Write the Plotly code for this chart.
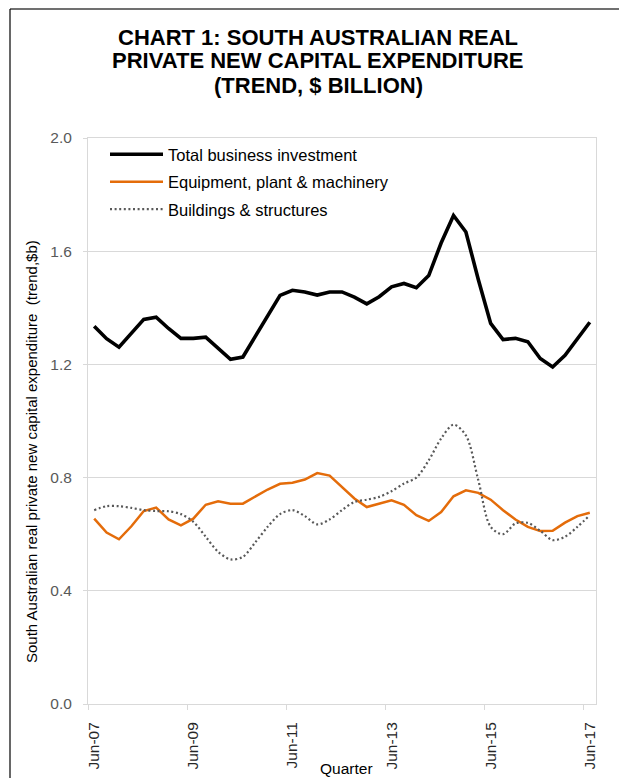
import plotly.graph_objects as go

# ---------------- data ----------------
quarters = []
for yr in range(2007, 2018):
    for m in ["Mar", "Jun", "Sep", "Dec"]:
        quarters.append(f"{m}-{str(yr)[2:]}")
quarters = quarters[quarters.index("Jun-07"):quarters.index("Jun-17") + 1]

total_investment = [1.335, 1.291, 1.261, 1.308, 1.359, 1.367, 1.327, 1.292, 1.292, 1.296,
                    1.255, 1.218, 1.226, 1.300, 1.373, 1.444, 1.462, 1.456, 1.445, 1.456,
                    1.456, 1.438, 1.414, 1.439, 1.474, 1.486, 1.471, 1.514, 1.629, 1.726,
                    1.668, 1.500, 1.345, 1.288, 1.292, 1.280, 1.221, 1.191, 1.232, 1.291,
                    1.349]
equipment = [0.655, 0.606, 0.582, 0.628, 0.682, 0.694, 0.652, 0.631, 0.655, 0.704,
             0.716, 0.708, 0.708, 0.734, 0.758, 0.778, 0.782, 0.793, 0.816, 0.807,
             0.767, 0.726, 0.696, 0.708, 0.720, 0.704, 0.667, 0.647, 0.678, 0.734,
             0.755, 0.746, 0.722, 0.685, 0.652, 0.626, 0.611, 0.612, 0.641, 0.664,
             0.676]
buildings = [0.685, 0.699, 0.699, 0.693, 0.685, 0.682, 0.681, 0.671, 0.644, 0.591,
             0.538, 0.511, 0.520, 0.571, 0.626, 0.671, 0.685, 0.664, 0.635, 0.652,
             0.685, 0.714, 0.722, 0.732, 0.752, 0.779, 0.800, 0.861, 0.938, 0.987,
             0.949, 0.791, 0.626, 0.600, 0.638, 0.640, 0.612, 0.579, 0.591, 0.626,
             0.667]

title_lines = ["CHART 1: SOUTH AUSTRALIAN REAL",
               "PRIVATE NEW CAPITAL EXPENDITURE",
               "(TREND, $ BILLION)"]
y_ticks = [0.0, 0.4, 0.8, 1.2, 1.6, 2.0]
x_label_step = 8

FONT = "Liberation Sans, Arial, sans-serif"
GRID = "#d9d9d9"

idx = list(range(len(quarters)))
tick_idx = idx[::x_label_step]

fig = go.Figure()
fig.add_trace(go.Scatter(x=idx, y=total_investment, mode="lines",
                         name="Total business investment", legendgroup="a",
                         line=dict(color="#000000", width=3.6)))
fig.add_trace(go.Scatter(x=idx, y=equipment, mode="lines",
                         name="Equipment, plant & machinery", legendgroup="b",
                         line=dict(color="#E46C0A", width=2.5)))
fig.add_trace(go.Scatter(x=idx, y=buildings, mode="lines",
                         name="Buildings & structures", legendgroup="c",
                         line=dict(color="#595959", width=2.2, dash="2px,2.6px",
                                   shape="spline", smoothing=0.9)))

L, R, T, B = 88, 23, 138, 74
W, H = 619, 778
pw, ph = W - L - R, H - T - B

def px_x(p):
    return (p - L) / pw

def px_y(p):
    return (H - B - p) / ph

title_y = [37, 61, 85]
annotations = [
    dict(text=f"<b>{t}</b>", xref="paper", yref="paper", x=px_x(318), y=px_y(yy),
         xanchor="center", yanchor="middle", showarrow=False,
         font=dict(family=FONT, size=22, color="#000000"))
    for t, yy in zip(title_lines, title_y)
]
annotations += [
    dict(text="South Australian real private new capital expenditure \u00a0(trend,$b)",
         xref="paper", yref="paper", x=px_x(32), y=px_y(452),
         xanchor="center", yanchor="middle", textangle=-90, showarrow=False,
         font=dict(family=FONT, size=15, color="#000000")),
    dict(text="Quarter", xref="paper", yref="paper", x=px_x(346), y=px_y(768),
         xanchor="center", yanchor="middle", showarrow=False,
         font=dict(family=FONT, size=15.5, color="#000000")),
]

fig.update_layout(
    width=W, height=H,
    margin=dict(l=L, r=R, t=T, b=B, autoexpand=False),
    paper_bgcolor="white", plot_bgcolor="white",
    font=dict(family=FONT, color="#000000"),
    showlegend=True,
    legend=dict(
        x=px_x(105), y=px_y(137), xanchor="left", yanchor="top",
        bgcolor="rgba(0,0,0,0)", borderwidth=0,
        font=dict(family=FONT, size=16.5, color="#000000"),
        itemwidth=53, tracegroupgap=3, traceorder="grouped",
    ),
    xaxis=dict(
        range=[-0.5, len(quarters) - 0.5],
        automargin=False,
        tickmode="array", tickvals=tick_idx,
        ticktext=[quarters[i] for i in tick_idx],
        tickangle=-90,
        tickfont=dict(family=FONT, size=15.5, color="#262626"),
        ticks="outside", ticklen=5, tickcolor="rgba(0,0,0,0)",
        ticklabelstandoff=6,
        minor=dict(tickmode="array", tickvals=[i - 0.5 for i in tick_idx],
                   ticks="outside", ticklen=5, tickcolor=GRID, showgrid=False),
        showgrid=False, zeroline=False,
        showline=True, linecolor=GRID, linewidth=1, mirror=True,
    ),
    yaxis=dict(
        range=[0, 2.0],
        automargin=False,
        tickmode="array", tickvals=y_ticks,
        ticktext=[f"{v:.1f}" for v in y_ticks],
        tickfont=dict(family=FONT, size=15.5, color="#595959"),
        ticks="outside", ticklen=4, tickcolor=GRID,
        ticklabelstandoff=8,
        showgrid=True, gridcolor=GRID, gridwidth=1,
        zeroline=False,
        showline=True, linecolor=GRID, linewidth=1, mirror=True,
    ),
    annotations=annotations,
    shapes=[
        dict(type="line", xref="paper", yref="paper",
             x0=px_x(10), x1=px_x(W + 5), y0=px_y(9), y1=px_y(9),
             line=dict(color="#404040", width=1.5)),
        dict(type="line", xref="paper", yref="paper",
             x0=px_x(10), x1=px_x(10), y0=px_y(9), y1=px_y(H + 5),
             line=dict(color="#000000", width=1.2)),
    ],
)

fig.write_html("out.html")
